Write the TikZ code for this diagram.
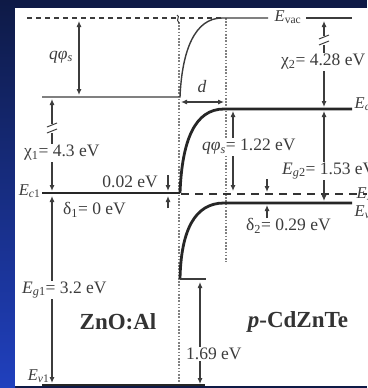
\documentclass[tikz,border=0pt]{standalone}
\usepackage{fontspec}
\setmainfont{Liberation Serif}
\usetikzlibrary{arrows.meta}
\definecolor{navy}{RGB}{14,26,70}
\definecolor{sideblue}{RGB}{32,64,190}
\definecolor{ink}{RGB}{60,60,60}
\begin{document}
\begin{tikzpicture}[x=1pt,y=-1pt,
  thinline/.style={line width=1.4pt, draw=ink},
  band/.style={line width=2.8pt, draw=black!85},
  dotv/.style={line width=1.6pt, draw=black!50, dash pattern=on 1.6pt off 1.6pt},
  topdash/.style={line width=1.3pt, draw=ink, dash pattern=on 5pt off 4pt},
  fermi/.style={line width=2pt, draw=black!80, dash pattern=on 8pt off 6pt},
  dim/.style={line width=1.1pt, draw=ink, {Latex[length=6pt,width=5pt]}-{Latex[length=6pt,width=5pt]}},
  onearrow/.style={line width=1.1pt, draw=ink, -{Latex[length=6pt,width=5pt]}},
  lbl/.style={font=\fontsize{17.5}{20}\selectfont, text=ink, inner sep=1pt},
  elbl/.style={font=\fontsize{16.5}{18}\selectfont, text=ink, inner sep=0.5pt},
  mat/.style={font=\fontsize{23}{26}\selectfont\bfseries, text=black!80, inner sep=0pt},
  brk/.style={line width=1pt, draw=ink}
]
\clip (0,0) rectangle (367,388);
% background
\fill[navy] (0,0) rectangle (367,388);
\shade[top color=navy, bottom color=sideblue] (0,0) rectangle (15,388);
\fill[white] (15,8) rectangle (367,386);

% coordinates
\coordinate (vacL) at (42,97);
\coordinate (junc) at (180,97);
\coordinate (vacR) at (222,18);
\coordinate (ecL) at (42,193);
\coordinate (ecJ) at (180,193);
\coordinate (ecR) at (224,109);
\coordinate (ecE) at (352,109);
\coordinate (evJ) at (180,279);
\coordinate (evR) at (224,203);
\coordinate (evE) at (352,203);

% dotted verticals
\draw[dotv] (179,22) -- (179,386);
\draw[dotv] (226,18) -- (226,262);

% vacuum levels
\draw[topdash] (27,18) -- (vacR);
\draw[brk] (177,15) .. controls (181,17) and (175,19) .. (179,23);
\draw[thinline] (vacL) -- (junc) .. controls (182,50) and (195,18) .. (vacR) -- (268,18);
\node[elbl] (evac) at (288,17) {\textit{E}\textsubscript{vac}};
\draw[thinline] (306,18) -- (352,18);

% bands
\draw[band] (ecL) -- (ecJ);
\draw[band] (ecJ) .. controls (182,140) and (195,109) .. (ecR) -- (ecE);
\draw[band] (evJ) .. controls (181,230) and (195,203) .. (evR) -- (evE);
\draw[thinline, line width=1.2pt] (evJ) -- (206,279);
\draw[fermi] (181,194) -- (367,194);
\draw[band] (42,385) -- (205,385);

% left dimensions
\draw[dim] (79,21) -- (79,95);
\node[lbl, fill=white] (qphiL) at (61,57) {\textit{qφ\textsubscript{s}}};
\draw[dim] (52,99) -- (52,191);
\fill[white] (46,124) rectangle (58,133);
\draw[brk] (47,127) -- (57,123);
\draw[brk] (47,133) -- (57,129);
\node[lbl, fill=white, anchor=west] (chi1) at (23,153) {χ\textsubscript{1}= 4.3 eV};
\draw[dim] (52,196) -- (52,383);
\node[lbl, fill=white, anchor=west] (eg1) at (21,290) {\textit{E}\textsubscript{\textit{g}1}= 3.2 eV};
\draw[onearrow] (168,175) -- (168,191);
\draw[onearrow] (168,208) -- (168,196);
\node[lbl, anchor=east] (d002) at (159,182) {0.02 eV};
\node[lbl, anchor=west] (delta1) at (62,210) {δ\textsubscript{1}= 0 eV};
\node[elbl, anchor=east] (ec1) at (41,191) {\textit{E}\textsubscript{\textit{c}1}};
\node[elbl, anchor=east] (ev1) at (50,376) {\textit{E}\textsubscript{\textit{v}1}};
\node[mat] (zno) at (118,322) {ZnO:Al};

% right dimensions
\draw[dim] (181,102) -- (224,102);
\node[lbl] (dlab) at (202,87) {\textit{d}};
\draw[dim] (324,21) -- (324,107);
\fill[white] (318,36) rectangle (330,45);
\draw[brk] (319,39) -- (329,35);
\draw[brk] (319,45) -- (329,41);
\node[lbl, fill=white, anchor=west] (chi2) at (280,62) {χ\textsubscript{2}= 4.28 eV};
\node[elbl, anchor=west] (ec2) at (354,104) {\textit{E}\textsubscript{\textit{c}2}};
\draw[dim] (233,111) -- (233,191);
\node[lbl, fill=white, anchor=west] (qphiR) at (201,147) {\textit{qφ\textsubscript{s}}= 1.22 eV};
\draw[dim] (324,111) -- (324,201);
\node[lbl, fill=white, anchor=west] (eg2) at (281,171) {\textit{E}\textsubscript{\textit{g}2}= 1.53 eV};
\draw[onearrow] (267,179) -- (267,192);
\draw[onearrow] (267,218) -- (267,205);
\node[lbl, anchor=west] (delta2) at (245,226) {δ\textsubscript{2}= 0.29 eV};
\node[elbl, anchor=west] (ef) at (356,194) {\textit{E}\textsubscript{\textit{F}}};
\node[elbl, anchor=west] (ev2) at (354,212) {\textit{E}\textsubscript{\textit{v}2}};
\draw[dim] (200,282) -- (200,384);
\node[lbl, fill=white, anchor=west] (l169) at (185,354) {1.69 eV};
\node[mat] (czt) at (298,322) {\textit{p}-CdZnTe};
\end{tikzpicture}
\end{document}
